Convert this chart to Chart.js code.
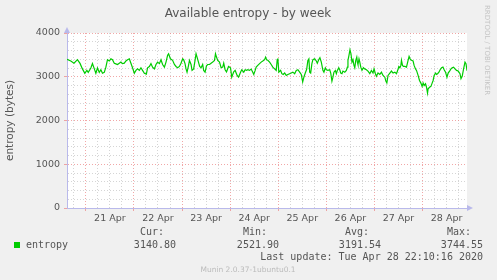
<!DOCTYPE html>
<html>
<head>
<meta charset="utf-8">
<script src="https://cdn.jsdelivr.net/npm/chart.js@4.4.0/dist/chart.umd.min.js"></script>
<style>
  html, body { margin: 0; padding: 0; background: #f0f0f0; }
  #wrap { width: 497px; height: 280px; }
</style>
</head>
<body>
<div id="wrap"><canvas id="chart" width="497" height="280"></canvas></div>
<script>
// hours since 21 Apr 00:00
const hours = [
  -9.4, -7.5, -5.9, -4.2, -2.9, -1.7, -0.5, 0.5, 1.2, 2.5, 3.3, 4.5, 5, 5.8, 6.7, 7.5, 8.3, 9.2, 10, 10.8,
  11.7, 12.5, 13.3, 14.2, 15, 15.8, 16.7, 17.5, 18.3, 19.2, 20, 20.8, 21.7, 22.5, 23.3, 24.2, 25, 25.8, 26.7, 27.5,
  28.3, 29.2, 30.2, 30.8, 31.7, 32.5, 33.3, 34.2, 35, 35.8, 36.7, 37.5, 38.3, 39.2, 40, 40.8, 41.3, 42.2, 43.3, 44.2,
  45, 45.8, 46.7, 47.5, 48.3, 48.8, 49.5, 50, 50.5, 51.2, 51.7, 52.5, 53, 53.8, 54.5, 55, 55.5, 56.2, 56.8, 57.5,
  58.3, 58.8, 59.5, 60.2, 60.8, 61.7, 62.5, 63.3, 64.2, 64.7, 65.2, 65.8, 66.7, 67.5, 68.3, 68.8, 69.5, 70.2, 71.2, 72.2,
  72.8, 73.8, 74.5, 75.5, 76.2, 77.2, 77.8, 78.8, 79.5, 80.2, 80.8, 81.7, 82.5, 83.3, 83.8, 84.5, 85, 85.8, 86.7, 87.5,
  88.3, 89.2, 89.7, 90.2, 90.8, 91.7, 92.5, 93.3, 94.2, 95, 95.5, 95.8, 96.3, 97.2, 97.8, 98.5, 99.2, 100, 100.8, 101.7,
  102.5, 103.3, 104.2, 105, 105.8, 106.7, 107.5, 108.2, 108.8, 109.5, 110.2, 110.8, 111.3, 111.7, 112.2, 112.8, 113.3, 114.2, 115, 115.5,
  116.2, 116.8, 117.5, 118.3, 118.8, 119.5, 120, 120.8, 121.7, 122.2, 122.8, 123.3, 123.8, 124.5, 125, 125.5, 126.2, 126.7, 127.2, 127.8,
  128.3, 129.2, 130, 130.5, 130.8, 131.3, 131.8, 132.3, 132.8, 133.3, 133.8, 134.2, 134.7, 135.2, 135.5, 135.8, 136.3, 136.7, 137.2, 137.8,
  138.5, 139.2, 140, 140.8, 141.7, 142.5, 143.3, 143.8, 144.5, 145, 145.8, 146.7, 147.5, 148.3, 149.2, 149.7, 150.2, 150.8, 151.7, 152.5,
  153.3, 154.2, 155, 155.5, 156.2, 156.7, 157.2, 157.5, 158, 158.5, 159.2, 160, 160.8, 161.3, 161.8, 162.5, 163.3, 163.8, 164.5, 165,
  165.8, 166.5, 167.2, 167.8, 168.3, 168.8, 169.5, 170, 170.5, 170.8, 171.5, 172.2, 172.8, 173.3, 173.8, 174.5, 175, 175.5, 176.2, 176.8,
  177.5, 178.2, 178.8, 179.5, 180.2, 180.8, 181.5, 182.2, 182.8, 183.5, 184.2, 185, 185.8, 186.7, 187.2, 187.8, 188.5, 189.2, 189.7, 190.2
];
const entropy = [
  3396, 3360, 3310, 3390, 3305, 3180, 3080, 3145, 3100, 3200, 3300, 3145, 3080, 3200, 3100, 3160, 3080, 3100, 3220, 3390,
  3360, 3410, 3390, 3310, 3295, 3280, 3310, 3335, 3300, 3310, 3360, 3390, 3410, 3310, 3205, 3080, 3145, 3180, 3145, 3205,
  3145, 3080, 3060, 3205, 3235, 3300, 3220, 3180, 3280, 3335, 3300, 3390, 3280, 3220, 3335, 3490, 3525, 3410, 3375, 3280,
  3235, 3205, 3235, 3310, 3410, 3390, 3300, 3180, 3105, 3250, 3375, 3280, 3145, 3180, 3375, 3525, 3450, 3335, 3235, 3205,
  3280, 3145, 3105, 3250, 3280, 3280, 3310, 3335, 3375, 3525, 3450, 3375, 3335, 3205, 3220, 3310, 3160, 3110, 3235, 3205,
  2990, 3115, 3145, 3030, 2990, 3105, 3160, 3105, 3160, 3145, 3160, 3145, 3175, 3105, 3053, 3145, 3220, 3260, 3300, 3335,
  3360, 3390, 3450, 3390, 3375, 3335, 3280, 3220, 3180, 3145, 3390, 3420, 3105, 3145, 3070, 3053, 3085, 3030, 3053, 3070,
  3085, 3105, 3070, 3145, 3160, 3105, 3053, 2880, 2990, 3085, 3170, 3375, 3410, 3105, 3085, 3300, 3390, 3410, 3360, 3310,
  3390, 3435, 3335, 3145, 3105, 3205, 3160, 3145, 3160, 3085, 2900, 2990, 3105, 3145, 3070, 3145, 3205, 3160, 3085, 3070,
  3130, 3105, 3145, 3220, 3375, 3490, 3617, 3525, 3335, 3390, 3260, 3205, 3375, 3450, 3335, 3280, 3410, 3335, 3220, 3145,
  3205, 3180, 3160, 3130, 3070, 3145, 3085, 3180, 3070, 3010, 3085, 3053, 3105, 3030, 2990, 2900, 2858, 3030, 3085, 3130,
  3085, 3105, 3070, 3130, 3235, 3205, 3260, 3375, 3260, 3235, 3235, 3220, 3375, 3465, 3410, 3375, 3360, 3260, 3180, 3145,
  3030, 2915, 2855, 2780, 2855, 2800, 2840, 2760, 2627, 2725, 2760, 2780, 2855, 2915, 3030, 3085, 3053, 3070, 3105, 3160,
  3205, 3220, 3160, 3105, 2990, 3085, 3130, 3180, 3205, 3220, 3180, 3145, 3130, 3070, 2955, 3010, 3180, 3335, 3300, 3140
];
const dayLabels = ['21 Apr', '22 Apr', '23 Apr', '24 Apr', '25 Apr', '26 Apr', '27 Apr', '28 Apr'];
const legendHeads = ['Cur:', 'Min:', 'Avg:', 'Max:'];
const legendValues = ['3140.80', '2521.90', '3191.54', '3744.55'];
const seriesName = 'entropy';

const AXIS = 'rgb(185,185,235)';
const MAJOR = 'rgba(235,130,130,0.7)';
const MINOR = 'rgba(185,185,185,0.6)';
const TXT = '#555';

const decor = {
  id: 'decor',
  beforeDraw(chart) {
    const c = chart.ctx, a = chart.chartArea;
    c.save();
    c.fillStyle = '#f0f0f0';
    c.fillRect(0, 0, chart.width, chart.height);
    c.fillStyle = '#fff';
    c.fillRect(a.left, a.top, a.right - a.left, a.bottom - a.top);
    c.restore();
  },
  afterDraw(chart) {
    const c = chart.ctx, a = chart.chartArea;
    c.save();
    // title
    c.fillStyle = TXT;
    c.font = '12px "DejaVu Sans"';
    c.textAlign = 'center';
    c.textBaseline = 'middle';
    c.fillText('Available entropy - by week', 248, 14);
    // arrows
    c.fillStyle = AXIS;
    c.beginPath();
    c.moveTo(a.left - 3, a.top); c.lineTo(a.left + 3, a.top); c.lineTo(a.left, a.top - 6);
    c.fill();
    c.beginPath();
    c.moveTo(a.right, a.bottom - 3); c.lineTo(a.right, a.bottom + 3); c.lineTo(a.right + 6, a.bottom);
    c.fill();
    // side credit
    c.save();
    c.translate(487, 5);
    c.rotate(Math.PI / 2);
    c.fillStyle = '#c4c4c4';
    c.font = '7px "DejaVu Sans"';
    c.textAlign = 'left';
    c.textBaseline = 'middle';
    c.fillText('RRDTOOL / TOBI OETIKER', 0, 0);
    c.restore();
    // legend
    c.font = '10px "DejaVu Sans Mono"';
    c.textAlign = 'right';
    c.fillStyle = TXT;
    const ends = [176, 279, 381, 483];
    legendHeads.forEach((h, i) => c.fillText(h, ends[i] - 12, 232));
    legendValues.forEach((v, i) => c.fillText(v, ends[i], 245));
    c.fillText('Last update: Tue Apr 28 22:10:16 2020', 483, 257);
    c.textAlign = 'left';
    c.fillText(seriesName, 26, 245);
    c.fillStyle = '#00cc00';
    c.fillRect(14, 242, 6, 6);
    c.fillStyle = '#bbb';
    c.font = '7.5px "DejaVu Sans"';
    c.textAlign = 'center';
    c.fillText('Munin 2.0.37-1ubuntu0.1', 248, 270);
    c.restore();
  }
};

new Chart(document.getElementById('chart'), {
  type: 'line',
  data: {
    datasets: [{
      label: seriesName,
      data: hours.map((h, i) => ({ x: h, y: entropy[i] })),
      borderColor: '#00cc00',
      borderWidth: 1.2,
      pointRadius: 0,
      tension: 0,
      fill: false
    }]
  },
  options: {
    responsive: false,
    animation: false,
    devicePixelRatio: 1,
    layout: { padding: { top: 33, right: 30, left: 0, bottom: 0 } },
    plugins: { legend: { display: false }, tooltip: { enabled: false } },
    scales: {
      x: {
        type: 'linear',
        min: -9.4,
        max: 190.2,
        afterBuildTicks(s) {
          const t = [];
          for (let h = -6; h <= 186; h += 6) t.push({ value: h });
          s.ticks = t;
        },
        afterFit(s) { s.height = 72; },
        ticks: {
          autoSkip: false,
          maxRotation: 0,
          padding: 2,
          color: TXT,
          font: { family: 'DejaVu Sans', size: 9.5 },
          callback: v => (((v % 24) + 24) % 24 === 12 ? dayLabels[(v - 12) / 24] : '')
        },
        grid: {
          color: ctx => (ctx.tick && ctx.tick.value % 24 === 0 ? MAJOR : MINOR),
          tickColor: ctx => (ctx.tick && ctx.tick.value % 24 === 0 ? MAJOR : 'rgba(0,0,0,0)'),
          tickLength: 3
        },
        border: { color: AXIS, width: 1, dash: [1, 2] }
      },
      y: {
        min: 0,
        max: 4000,
        afterBuildTicks(s) {
          const t = [];
          for (let v = 0; v <= 4000; v += 200) t.push({ value: v });
          s.ticks = t;
        },
        afterFit(s) { s.width = 67; },
        ticks: {
          autoSkip: false,
          padding: 4,
          color: TXT,
          font: { family: 'DejaVu Sans', size: 9.5 },
          callback: v => (v % 1000 === 0 ? v : '')
        },
        grid: {
          color: ctx => (ctx.tick && ctx.tick.value % 1000 === 0 ? MAJOR : MINOR),
          tickColor: ctx => (ctx.tick && ctx.tick.value % 1000 === 0 ? MAJOR : 'rgba(0,0,0,0)'),
          tickLength: 3
        },
        border: { color: AXIS, width: 1, dash: [1, 2] },
        title: {
          display: true,
          text: 'entropy (bytes)',
          color: TXT,
          font: { family: 'DejaVu Sans', size: 10.5 },
          padding: { top: 4, bottom: 0 }
        }
      }
    }
  },
  plugins: [decor]
});
</script>
</body>
</html>
